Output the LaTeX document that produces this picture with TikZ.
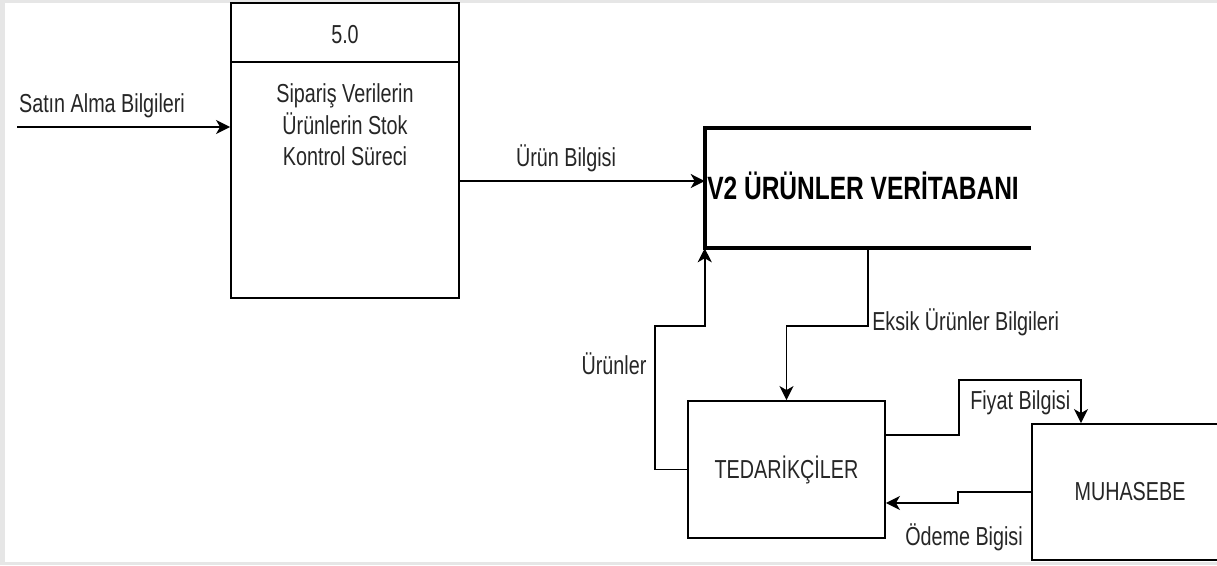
\documentclass[tikz,border=0pt]{standalone}
\usepackage{fontspec}
\setmainfont{Liberation Sans}[FakeStretch=0.76]
\usetikzlibrary{arrows.meta}
\definecolor{framegray}{HTML}{E6E6E6}
\definecolor{txtgray}{HTML}{262626}

\begin{document}
\begin{tikzpicture}[x=0.75pt, y=-0.75pt,
    box/.style={rectangle, draw, line width=1.4pt, inner sep=0pt, text=txtgray, font=\fontsize{19.5}{23.8}\selectfont},
    lbl/.style={inner sep=0pt, anchor=base, text=txtgray, font=\fontsize{19.5}{23.8}\selectfont},
    arr/.style={-{Stealth[length=10.5pt, width=10.5pt, inset=3pt]}, line width=1.4pt},
    storeline/.style={line width=2.8pt},
  ]
    \useasboundingbox (0,0) rectangle (1217,565);
    \fill[framegray] (0,0) rectangle (1217,565);
    \fill[white] (4.5,2.5) rectangle (1217,561.5);

    % process 5.0
    \node[box, minimum width=171pt, minimum height=221.25pt] (proc) at (345,150.5) {};
    \coordinate (procdiv) at (231,62);
    \draw[line width=1.4pt] (procdiv) -- (procdiv -| proc.east);
    \node[lbl] (procid) at (345,43) {5.0};
    \node[lbl, anchor=north, align=center] (procname) at (345,83.4) {Sipariş Verilerin\\Ürünlerin Stok\\Kontrol Süreci};

    % data store
    \node[rectangle, inner sep=0pt, minimum width=244.5pt, minimum height=90pt] (store) at (868,188) {};
    \draw[storeline] (store.north east) -- (store.north west) -- (store.south west) -- (store.south east);
    \node[inner sep=0pt, anchor=base west, font=\fontsize{24.2}{29}\selectfont\bfseries] (storetxt) at (707,199) {V2 ÜRÜNLER VERİTABANI};

    % entities
    \node[box, minimum width=147.75pt, minimum height=102.75pt] (ted) at (786.5,469.5) {TEDARİKÇİLER};
    \node[box, minimum width=147pt, minimum height=102pt] (muh) at (1130,492) {MUHASEBE};

    % flows
    \coordinate (src) at (17,127);
    \draw[arr] (src) -- (src -| proc.west);
    \node[lbl] (lblsat) at (102,112.3) {Satın Alma Bilgileri};

    \draw[arr] ([yshift=-22.9pt]proc.east) -- ([yshift=-22.9pt]proc.east -| store.west);
    \node[lbl] (lblurun) at (566,166) {Ürün Bilgisi};

    \draw[arr] (store.south) -- ++(0,78) -| (ted.north);
    \node[lbl, anchor=base west] (lbleksik) at (872,330) {Eksik Ürünler Bilgileri};

    \draw[arr] (ted.west) -- ++(-32,0) -- ++(0,-143.5) -| (store.south west);
    \node[lbl] (lblurunler) at (614,374) {Ürünler};

    \draw[arr] ([yshift=25.9pt]ted.east) -| ++(73,-55) -| ([xshift=-36.75pt]muh.north);
    \node[lbl, anchor=base west] (lblfiyat) at (970,409) {Fiyat Bilgisi};

    \draw[arr] (muh.west) -- ++(-73,0) |- ([yshift=-25.1pt]ted.east);
    \node[lbl, anchor=base west] (lblodeme) at (905,545) {Ödeme Bigisi};
\end{tikzpicture}
\end{document}
